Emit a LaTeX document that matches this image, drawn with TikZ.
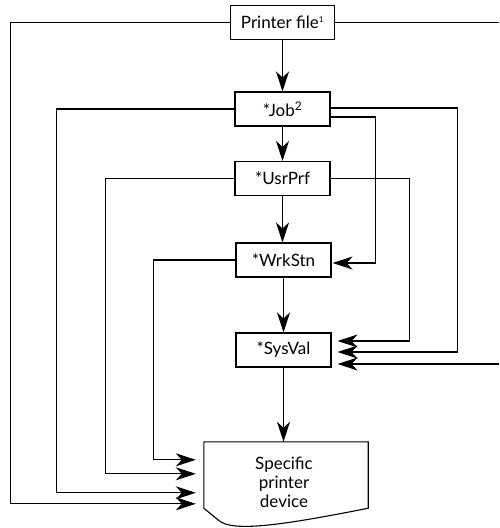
\documentclass[tikz,border=0pt]{standalone}
\usepackage{fontspec}
\setmainfont{Lato}
\usetikzlibrary{arrows.meta,calc}

\begin{document}
\begin{tikzpicture}[x=1pt,y=-1pt,
    every node/.style={font=\fontsize{17}{19}\selectfont},
    box/.style={draw,line width=1.1pt,minimum width=95pt,minimum height=34pt,inner sep=0pt},
    devframe/.style={minimum width=164pt,minimum height=66pt,inner sep=0pt},
    link/.style={line width=1.1pt},
    arr/.style={link,-{Stealth[length=20pt,width=13pt,inset=6pt]}},
  ]
  \useasboundingbox (0,0) rectangle (499,528);

  % processing chain
  \node[box,minimum width=104pt] (pf) at (282.5,22.5) {Printer file\textsuperscript{\footnotesize 1}};
  \node[box] (job) at (282.5,109) {*Job\textsuperscript{2}};
  \node[box] (usr) at (282.5,178.5) {*UsrPrf};
  \node[box] (wrk) at (283.5,260) {*WrkStn};
  \node[box] (sys) at (283.5,350) {*SysVal};

  % printer device outline with wavy bottom
  \node[devframe] (dev) at (286,475) {};
  \draw[link] (dev.south west) -- (dev.north west) -- (dev.north east) -- (dev.south east)
    .. controls +(-70,14) and +(22,2) .. (236,526)
    .. controls +(-9,-1) and +(6,5) .. (217,519) -- cycle;
  \node[align=center] (devtxt) at ($(dev.center)+(-2,7)$) {Specific\\printer\\device};

  % entry points on the device and on *SysVal / *WrkStn
  \coordinate (d1) at ($(dev.north west)+(0,18)$);
  \coordinate (d2) at ($(dev.north west)+(0,32)$);
  \coordinate (d3) at ($(dev.north west)+(0,51)$);
  \coordinate (d4) at ($(dev.north west)+(0,62)$);
  \coordinate (s1) at ($(sys.east)+(0,-9)$);
  \coordinate (s2) at ($(sys.east)+(0,2)$);
  \coordinate (s3) at ($(sys.east)+(0,14)$);
  \coordinate (w1) at ($(wrk.east)+(0,3)$);
  \coordinate (te) at (499,22.5);
  \coordinate (re) at (499,364);

  % main vertical flow
  \draw[arr] (pf.south) -- (job.north);
  \draw[arr] (job.south) -- (usr.north);
  \draw[arr] (usr.south) -- (usr.south |- wrk.north);
  \draw[arr] (wrk.south) -- (sys.north);
  \draw[arr] (sys.south) -- (sys.south |- dev.north);

  % left-hand bypasses into the device
  \draw[arr,shorten >=8pt] (pf.west) -- ++(-219.5,0) |- (d4);
  \draw[arr,shorten >=8pt] (job.west) -- ++(-178,0) |- (d3);
  \draw[arr,shorten >=8pt] (usr.west) -- ++(-129,0) |- (d2);
  \draw[arr,shorten >=8pt] (wrk.west) -- ++(-82,0) |- (d1);

  % right-hand bypasses
  \draw[link] (pf.east) -- (te);
  \draw[arr,shorten >=6pt] ($(job.east)+(0,-1)$) -- ++(127,0) |- (s2);
  \draw[arr,shorten >=1pt] ($(job.east)+(0,8)$) -- ++(45,0) |- (w1);
  \draw[arr,shorten >=6pt] (usr.east) -- ++(79,0) |- (s1);
  \draw[arr,shorten >=6pt] (re) -- (s3);
\end{tikzpicture}
\end{document}
